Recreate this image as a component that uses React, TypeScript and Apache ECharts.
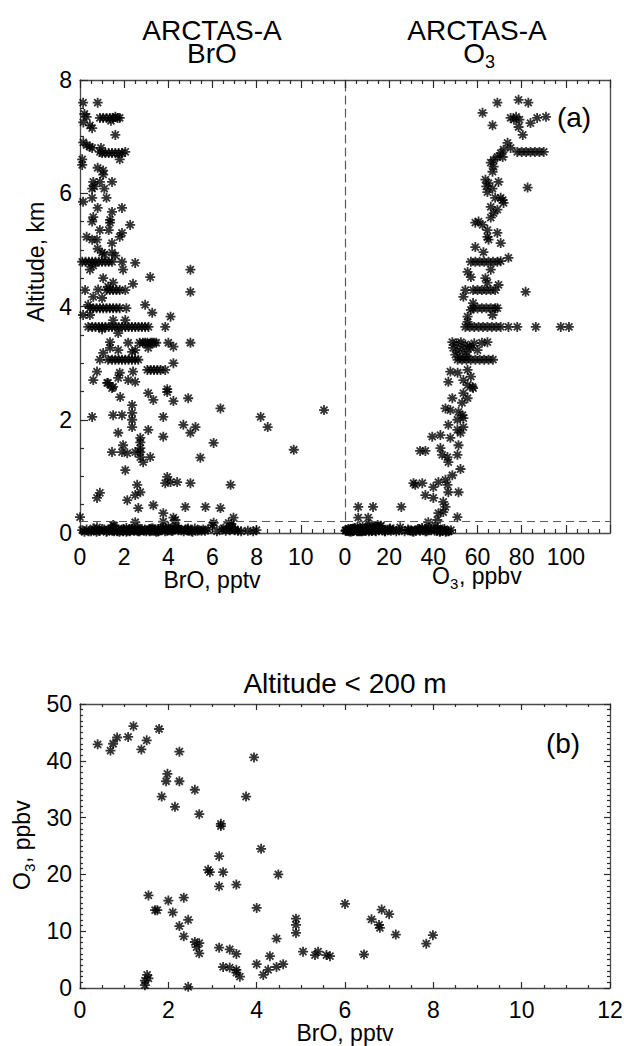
import React, { useEffect, useRef } from "react";
import * as echarts from "echarts";

const FONT = "'Liberation Sans', Arial, Helvetica, sans-serif";

// Axis ranges
const broRange = [0, 12];
const o3TopRange = [0, 120];
const altRange = [0, 8];
const o3BottomRange = [0, 50];
const boundaryAltitudeKm = 0.2;

// Panel (a), left: BrO (pptv) vs altitude (km)
const broProfile: number[][] = [
  [0.14,7.6],[0.8,7.6],[0.2,7.4],[0.3,7.35],[0.15,7.25],[0.45,7.2],[0.55,7.15],
  [0.9,7.33],[1.05,7.33],[1.2,7.33],[1.35,7.33],[1.5,7.33],[1.6,7.35],[1.7,7.33],[1.8,7.33],[1.4,7.28],
  [1.6,7.03],[0.15,6.9],[0.3,6.85],[0.45,6.82],[0.55,6.8],
  [0.9,6.73],[1.0,6.71],[1.15,6.71],[1.3,6.71],[1.45,6.71],[1.6,6.71],[1.75,6.71],[1.9,6.71],[2.05,6.73],[0.95,6.8],
  [0.1,6.6],[0.1,6.5],[1.8,6.6],[0.8,6.45],[1.05,6.4],[1.05,6.33],[0.6,6.2],[0.9,6.2],[1.45,6.2],[0.55,6.08],[1.1,6.08],[0.65,6.12],
  [0.14,5.85],[0.55,5.92],[1.2,5.92],[0.8,5.74],[1.45,5.67],[1.9,5.74],[0.6,5.58],[0.55,5.5],[1.36,5.53],[1.36,5.48],
  [2.27,5.44],[1.9,5.3],[1.8,5.23],[0.9,5.35],[1.3,5.35],[0.3,5.23],[0.55,5.18],[0.77,5.18],[1.45,5.12],[0.8,5.02],
  [1.0,4.95],[1.1,4.92],[1.45,4.95],[1.6,4.9],
  [0.1,4.79],[0.25,4.79],[0.4,4.79],[0.55,4.79],[0.7,4.79],[0.85,4.79],[1.0,4.79],[1.15,4.79],[1.3,4.79],[1.45,4.79],[1.9,4.79],[2.5,4.77],[0.6,4.72],
  [0.45,4.65],[1.95,4.65],[5.0,4.65],[3.18,4.52],[1.05,4.5],[1.5,4.42],[2.4,4.4],[1.27,4.35],
  [1.2,4.29],[1.35,4.29],[1.5,4.29],[1.65,4.29],[1.8,4.29],[2.05,4.29],[0.23,4.29],[0.82,4.3],
  [5.0,4.26],[0.6,4.17],[1.0,4.15],[0.37,4.03],[2.95,4.03],
  [0.45,3.97],[0.6,3.97],[0.75,3.97],[0.9,3.97],[1.05,3.97],[1.2,3.97],[1.35,3.97],[1.5,3.97],[1.65,3.97],[1.8,3.97],[2.1,3.97],
  [3.27,3.89],[4.1,3.82],[0.14,3.85],[0.45,3.85],[1.5,3.76],[2.05,3.76],
  [0.37,3.64],[0.55,3.64],[0.7,3.64],[0.85,3.64],[1.0,3.64],[1.15,3.64],[1.3,3.64],[1.45,3.64],[1.6,3.64],[1.75,3.64],
  [1.9,3.64],[2.05,3.64],[2.2,3.64],[2.35,3.64],[2.5,3.64],[2.65,3.64],[2.8,3.64],[2.95,3.64],[3.1,3.64],[3.86,3.64],[1.0,3.6],
  [1.73,3.53],[1.36,3.37],[2.18,3.36],[2.95,3.36],[3.27,3.36],[4.0,3.36],[4.23,3.29],[5.0,3.36],[3.09,3.27],
  [2.7,3.36],[2.85,3.36],[3.05,3.36],[3.2,3.36],[3.35,3.36],[3.45,3.36],
  [1.05,3.18],[1.36,3.27],[1.73,3.23],[2.36,3.2],[2.5,3.23],[0.9,3.06],
  [1.27,3.06],[1.45,3.06],[1.6,3.06],[1.75,3.06],[1.9,3.06],[2.05,3.06],[2.2,3.06],[2.35,3.06],[2.5,3.06],[2.64,3.06],
  [4.23,3.0],[3.05,2.88],[3.2,2.88],[3.35,2.88],[3.5,2.88],[3.65,2.88],[3.86,2.88],
  [0.77,2.85],[1.8,2.83],[2.4,2.85],[0.6,2.7],[1.73,2.74],[2.18,2.7],[2.5,2.67],[1.27,2.65],[1.5,2.58],[3.95,2.54],
  [1.23,2.65],[1.45,2.56],[1.82,2.4],[3.09,2.47],[3.32,2.35],[3.95,2.49],[4.23,2.33],[4.9,2.38],[6.36,2.2],
  [0.55,2.05],[1.5,2.08],[1.9,2.08],[2.36,2.26],[2.36,2.12],[2.36,2.0],[2.36,1.87],[3.77,2.05],[8.18,2.05],[8.5,1.87],[11.05,2.17],
  [4.68,1.91],[5.23,1.87],[5.0,1.77],[3.09,1.82],[1.73,1.77],[2.73,1.68],[3.77,1.7],[6.05,1.59],[1.95,1.55],[2.73,1.6],[2.73,1.5],
  [1.45,1.43],[1.9,1.43],[2.14,1.41],[2.5,1.43],[2.73,1.43],[2.73,1.34],[2.86,1.25],[3.18,1.34],[9.68,1.47],[5.45,1.33],
  [2.05,1.11],[3.95,0.99],[3.86,0.88],[4.1,0.9],[4.4,0.9],[5.0,0.88],[6.82,0.85],[2.59,0.85],
  [0.9,0.71],[0.77,0.62],[2.73,0.72],[2.5,0.67],[2.14,0.58],[2.64,0.44],[3.32,0.49],[4.77,0.46],[5.68,0.46],[6.36,0.44],
  [0.0,0.28],[3.77,0.35],[4.23,0.27],[4.32,0.23],[6.95,0.27],
  [2.5,0.19],[0.77,0.1],[1.5,0.14],[6.05,0.18],[6.73,0.18],[6.9,0.1],[3.77,0.2],[3.77,0.1]
];

// Panel (a), left: further surface-layer BrO points (BrO, altitude)
const broSurfaceExtra: number[][] = [
  [0.1,0.05],[0.2,0.02],[0.3,0.06],[0.5,0.03],[0.6,0.08],[0.9,0.04],[1.0,0.07],[1.2,0.02],[1.3,0.05],[1.7,0.03],
  [1.9,0.06],[2.1,0.02],[2.3,0.05],[2.8,0.07],[3.0,0.03],[3.3,0.08],[3.45,0.02],[3.7,0.06],[3.85,0.03],[4.05,0.07],
  [4.2,0.04],[4.35,0.12],[4.7,0.03],[4.8,0.06],[5.1,0.02],[5.2,0.08],[5.5,0.04],[5.8,0.06],[6.2,0.03],[6.5,0.08],
  [6.85,0.16],[7.0,0.05],[7.3,0.03],[7.6,0.04]
];

// Panel (a), right: O3 (ppbv) vs altitude (km)
const o3Profile: number[][] = [
  [69,7.6],[78.6,7.65],[83,7.6],[62.3,7.42],[66.8,7.2],[75,7.33],[76.5,7.3],[77.5,7.35],[79,7.3],[78.6,7.17],
  [84,7.24],[87,7.33],[91,7.35],[80.5,7.03],[73.6,6.89],[75,6.8],[71.8,6.77],[70.5,6.71],
  [78,6.73],[80,6.73],[82,6.73],[84,6.73],[86,6.73],[88,6.73],[90,6.73],
  [69,6.64],[71.4,6.64],[67.3,6.59],[66,6.54],[67.3,6.47],[66.8,6.38],[63.6,6.24],[65,6.18],[64,6.12],[66.8,6.08],
  [64.5,6.02],[69.5,6.2],[82.7,6.1],[68,5.92],[70.5,5.92],
  [71.4,5.88],[71.8,5.83],[66,5.76],[69,5.71],[67.3,5.65],[60.5,5.5],[59,5.48],[62.3,5.44],[66,5.57],
  [64.5,5.35],[64.5,5.23],[65,5.18],[69,5.3],[70.5,5.12],[59,5.05],[62.7,4.96],[74,4.86],
  [57,4.79],[59,4.79],[61,4.79],[63,4.79],[65,4.79],[67,4.79],[69,4.79],[70.5,4.8],
  [66,4.65],[55.5,4.61],[57,4.52],[63.6,4.5],[64.5,4.42],[69.5,4.38],
  [58,4.29],[60,4.29],[62,4.29],[64,4.29],[66,4.29],[68,4.29],
  [54.5,4.29],[53.6,4.17],[81.8,4.26],[58,4.06],[57,3.94],[69,3.97],[66.8,3.85],
  [58,3.97],[60,3.97],[62,3.97],[64,3.97],[66,3.97],[68,3.97],[55.5,3.82],[55.5,3.73],
  [54.5,3.64],[56.5,3.64],[58.5,3.64],[60.5,3.64],[62.5,3.64],[64.5,3.64],[66.5,3.64],[68.5,3.64],[70.5,3.64],
  [74,3.64],[78,3.64],[86.4,3.64],[97.7,3.64],[101.4,3.64],
  [48.6,3.37],[50.5,3.35],[52.5,3.37],[54.5,3.33],[56.5,3.3],[58.5,3.35],[62,3.36],[64.5,3.37],
  [49,3.27],[51,3.22],[53,3.25],[55,3.2],[57,3.27],[60,3.23],[50,3.15],[52,3.1],[55,3.12],
  [51,3.06],[53,3.06],[55,3.06],[57,3.06],[59,3.06],[61,3.06],[63,3.06],[65,3.06],[67,3.06],
  [47.7,2.85],[51,2.83],[55.5,2.88],[57,2.76],[46.8,2.67],[53.6,2.7],[55.5,2.61],[57.7,2.58],
  [58,2.56],[53.6,2.47],[55.5,2.38],[53,2.3],[48.6,2.38],[45.5,2.2],[47.7,2.17],[51.4,2.14],[53.2,2.08],
  [53.6,2.03],[50.9,2.0],[53.6,1.87],[52.3,1.77],[50.9,1.82],[46.8,1.91],[39.5,1.7],[43.2,1.73],[47.7,1.68],
  [51.4,1.55],[34,1.45],[36.4,1.45],[43.2,1.5],[44,1.38],[46.4,1.34],[46.8,1.25],[50.9,1.38],[52.3,1.13],
  [48.6,1.02],[45.5,0.94],[31,0.88],[35,0.88],[31.8,0.85],[40,0.81],[42.3,0.9],[46.4,0.85],[51.4,0.72],
  [46.8,0.72],[36.4,0.67],[40,0.62],[44.5,0.55],[45.5,0.46],[44.5,0.37],[6,0.46],[12.7,0.46],[25.5,0.46],
  [50.9,0.28],[42.3,0.35],[41.8,0.23],[6,0.27],[10.5,0.27],[37.7,0.19]
];

// Panel (a), right: further surface-layer O3 points (O3, altitude)
const o3SurfaceExtra: number[][] = [
  [0.5,0.04],[1.5,0.07],[2.5,0.02],[3.5,0.05],[4.5,0.09],[5.5,0.03],[7,0.06],[8,0.12],[9,0.04],[10,0.08],
  [11,0.15],[12,0.05],[13,0.1],[14,0.03],[15,0.07],[16,0.12],[17,0.05],[18,0.03],[22,0.06],[25,0.1],
  [27,0.03],[30,0.05],[31,0.02],[33,0.07],[34,0.04],[35,0.06],[37,0.03],[38,0.09],[39,0.05],[41,0.12],
  [43,0.04],[45,0.07],[47,0.03],[48,0.05]
];

// Points below 200 m: BrO (pptv), O3 (ppbv) and altitude (km)
const lowBrO: number[] = [
  0.40,0.69,0.75,0.84,1.09,1.21,1.39,1.51,1.79,2.25,1.98,1.95,2.25,1.85,2.15,2.60,2.70,3.19,3.19,3.94,
  3.76,3.15,4.10,2.90,2.94,3.24,3.15,3.54,4.49,1.55,2.00,2.35,1.70,1.75,2.10,4.00,2.45,2.25,2.35,4.89,
  4.89,4.89,4.45,2.60,2.70,2.64,2.70,3.15,3.39,3.54,5.05,5.39,5.32,5.58,4.30,4.00,3.24,3.39,3.54,3.62,
  3.54,4.15,4.26,4.45,4.60,1.47,1.52,1.55,1.47,2.45,6.00,6.60,6.83,7.00,6.77,6.79,7.15,6.43,7.84,7.99,
  5.66
];
const lowO3: number[] = [
  42.9,41.8,43.0,44.1,44.2,46.1,42.0,43.6,45.6,41.6,37.7,36.4,36.4,33.7,31.9,34.9,30.6,28.9,28.5,40.6,
  33.7,23.2,24.5,20.8,20.4,20.4,17.9,18.2,20.0,16.3,15.4,15.9,13.7,13.7,13.3,14.1,12.0,10.9,9.1,12.2,
  11.1,9.7,8.7,8.1,7.9,7.2,6.1,7.1,6.8,6.0,6.4,6.4,5.8,5.8,5.6,4.2,3.7,3.6,3.2,2.0,
  2.7,2.3,3.2,3.7,4.2,1.3,2.3,1.7,0.5,0.2,14.8,12.1,13.8,13.0,11.1,10.6,9.4,5.9,7.8,9.3,
  5.6
];
const lowAlt: number[] = [
  0.03,0.05,0.02,0.04,0.06,0.03,0.08,0.05,0.02,0.04,0.06,0.03,0.07,0.05,0.04,0.09,0.03,0.05,0.06,0.04,
  0.07,0.03,0.05,0.04,0.06,0.08,0.05,0.03,0.06,0.13,0.05,0.07,0.04,0.06,0.09,0.11,0.05,0.03,0.07,0.04,
  0.06,0.08,0.05,0.04,0.06,0.03,0.05,0.07,0.04,0.06,0.03,0.05,0.04,0.06,0.10,0.05,0.04,0.06,0.03,0.05,
  0.07,0.04,0.06,0.08,0.05,0.04,0.06,0.03,0.05,0.04,0.14,0.04,0.12,0.06,0.09,0.05,0.04,0.06,0.03,0.05,
  0.04
];

const STAR = "path://M5,0L5,10M0,5L10,5M1.5,1.5L8.5,8.5M1.5,8.5L8.5,1.5";
const AXIS_COLOR = "#4a4a4a";
const TICK_COLOR = "#2a2a2a";
const DASH_COLOR = "#5a5a5a";

function starSeries(data: number[][], xIdx: number, yIdx: number, extra: any = {}) {
  return {
    type: "scatter",
    xAxisIndex: xIdx,
    yAxisIndex: yIdx,
    data,
    symbol: STAR,
    symbolSize: 10,
    itemStyle: { color: "rgba(0,0,0,0)", borderColor: "#000", borderWidth: 1.8 },
    emphasis: { disabled: true },
    silent: true,
    ...extra,
  };
}

const dashedAltLine = {
  silent: true,
  symbol: ["none", "none"],
  label: { show: false },
  lineStyle: { type: [8, 5], color: DASH_COLOR, width: 1.2 },
  data: [{ yAxis: boundaryAltitudeKm }],
};

function valAxis(opts: any) {
  const { labels, major, minor, split, ...rest } = opts;
  return {
    type: "value",
    axisLine: { show: true, onZero: false, lineStyle: { color: AXIS_COLOR, width: 1.3 } },
    axisTick: { show: true, inside: true, length: major, lineStyle: { color: TICK_COLOR, width: 1.2 } },
    minorTick: { show: true, splitNumber: split, length: minor, lineStyle: { color: TICK_COLOR, width: 1.2 } },
    axisLabel: labels
      ? { show: true, fontSize: 23, color: "#000", fontFamily: FONT, ...labels }
      : { show: false },
    splitLine: { show: false },
    minorSplitLine: { show: false },
    ...rest,
  };
}

function txt(text: string, x: number, y: number, size: number, align = "center", extra: any = {}, styleExtra: any = {}) {
  return {
    type: "text",
    x,
    y,
    silent: true,
    style: {
      text,
      fill: "#000",
      fontSize: size,
      fontFamily: FONT,
      textAlign: align,
      textVerticalAlign: "middle",
      ...styleExtra,
    },
    ...extra,
  };
}

export default function App() {
  const ref = useRef<HTMLDivElement>(null);

  useEffect(() => {
    document.body.style.margin = "0";
    if (!ref.current) return;
    const chart = echarts.init(ref.current, null, { renderer: "svg" });

    const lowBand = lowBrO.map((v, i) => [v, lowAlt[i]]);
    const lowBandO3 = lowO3.map((v, i) => [v, lowAlt[i]]);
    const lowScatter = lowBrO.map((v, i) => [v, lowO3[i]]);

    const option: any = {
      animation: false,
      backgroundColor: "#fff",
      grid: [
        { left: 80, top: 80, width: 265, height: 453, outerBoundsMode: "none" },
        { left: 345, top: 80, width: 265, height: 453, outerBoundsMode: "none" },
        { left: 80, top: 704, width: 530, height: 284, outerBoundsMode: "none" },
      ],
      xAxis: [
        valAxis({ gridIndex: 0, position: "bottom", min: broRange[0], max: broRange[1], interval: 2, major: 8, minor: 4, split: 4, labels: { margin: 12, showMaxLabel: false } }),
        valAxis({ gridIndex: 0, position: "top", min: broRange[0], max: broRange[1], interval: 2, major: 8, minor: 4, split: 4 }),
        valAxis({ gridIndex: 1, position: "bottom", min: o3TopRange[0], max: o3TopRange[1], interval: 20, major: 8, minor: 4, split: 4, labels: { margin: 12, showMaxLabel: false } }),
        valAxis({ gridIndex: 1, position: "top", min: o3TopRange[0], max: o3TopRange[1], interval: 20, major: 8, minor: 4, split: 4 }),
        valAxis({ gridIndex: 2, position: "bottom", min: broRange[0], max: broRange[1], interval: 2, major: 6, minor: 3, split: 4, labels: { margin: 10 } }),
        valAxis({ gridIndex: 2, position: "top", min: broRange[0], max: broRange[1], interval: 2, major: 6, minor: 3, split: 4 }),
      ],
      yAxis: [
        valAxis({ gridIndex: 0, position: "left", min: altRange[0], max: altRange[1], interval: 2, major: 8, minor: 4, split: 4, labels: { margin: 8 } }),
        {
          type: "value", gridIndex: 1, position: "left", min: altRange[0], max: altRange[1],
          axisLine: { show: true, onZero: false, lineStyle: { color: DASH_COLOR, width: 1.2, type: [8, 5] } },
          axisTick: { show: false }, axisLabel: { show: false }, splitLine: { show: false },
        },
        {
          type: "value", gridIndex: 1, position: "right", min: altRange[0], max: altRange[1],
          axisLine: { show: true, onZero: false, lineStyle: { color: AXIS_COLOR, width: 1.3 } },
          axisTick: { show: false }, axisLabel: { show: false }, splitLine: { show: false },
        },
        valAxis({ gridIndex: 2, position: "left", min: o3BottomRange[0], max: o3BottomRange[1], interval: 10, major: 6, minor: 3, split: 10, labels: { margin: 8 } }),
        valAxis({ gridIndex: 2, position: "right", min: o3BottomRange[0], max: o3BottomRange[1], interval: 10, major: 6, minor: 3, split: 10 }),
      ],
      series: [
        starSeries(broProfile, 0, 0, { markLine: dashedAltLine }),
        starSeries(broSurfaceExtra, 0, 0),
        starSeries(lowBand, 0, 0),
        starSeries(o3Profile, 2, 1, { markLine: dashedAltLine }),
        starSeries(o3SurfaceExtra, 2, 1),
        starSeries(lowBandO3, 2, 1),
        starSeries(lowScatter, 4, 3),
      ],
      graphic: [
        txt("ARCTAS-A\nBrO", 212, 41.5, 28, "center", {}, { lineHeight: 23 }),
        txt("ARCTAS-A", 477, 30, 28),
        txt("O", 485, 53, 28, "right"),
        txt("3", 485, 62, 18, "left"),
        txt("(a)", 574, 117, 28),
        txt("BrO, pptv", 212, 580, 23),
        txt("O", 432, 576, 23, "left"),
        txt("3", 450, 583, 15, "left"),
        txt(", ppbv", 459, 576, 23, "left"),
        txt("Altitude, km", 36, 262, 23, "center", { rotation: Math.PI / 2 }),
        txt("Altitude < 200 m", 345, 683, 28),
        txt("(b)", 563, 743, 28),
        txt("BrO, pptv", 345, 1033, 23),
        {
          type: "group",
          x: 22,
          y: 846,
          rotation: Math.PI / 2,
          silent: true,
          children: [
            txt("O", -44, 0, 23, "left"),
            txt("3", -26, 7, 15, "left"),
            txt(", ppbv", -17, 0, 23, "left"),
          ],
        },
      ],
    };

    chart.setOption(option);
    return () => chart.dispose();
  }, []);

  return (
    <div
      ref={ref}
      style={{ position: "absolute", left: 0, top: 0, width: 624, height: 1046, background: "#fff" }}
    />
  );
}
